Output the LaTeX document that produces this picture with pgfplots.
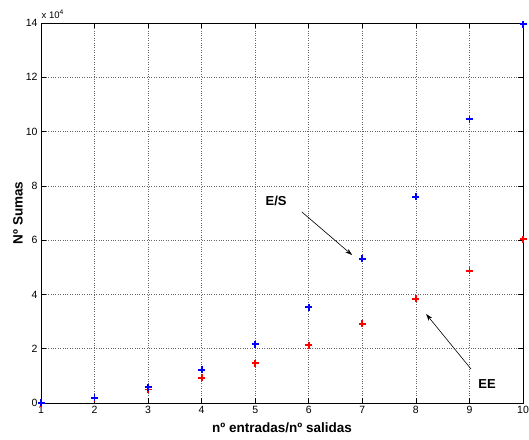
\documentclass[border=0pt]{standalone}
\usepackage{pgfplots}
\pgfplotsset{compat=1.18}
\usepackage{fontspec}
\setmainfont{Liberation Sans}
\usetikzlibrary{arrows.meta}

\begin{document}
\begin{tikzpicture}
\begin{axis}[
    scale only axis,
    width=482pt, height=380pt,
    xmin=1, xmax=10,
    ymin=0, ymax=140000,
    xtick={1,2,3,4,5,6,7,8,9,10},
    ytick={0,20000,40000,60000,80000,100000,120000,140000},
    yticklabels={0,2,4,6,8,10,12,14},
    scaled y ticks=false,
    tick align=inside,
    major tick length=5pt,
    tick style={black, line width=0.6pt},
    axis line style={line width=0.9pt},
    grid=major,
    grid style={dotted, black!60, line width=0.6pt},
    tick label style={font=\fontsize{10.5}{12}\selectfont},
    /pgf/number format/assume math mode=true,
    xlabel={nº entradas/nº salidas},
    ylabel={Nº Sumas},
    every axis x label/.style={at={([yshift=-25pt]rel axis cs:0.5,0)}, anchor=center, font=\bfseries\fontsize{13.5}{15}\selectfont},
    every axis y label/.style={at={([xshift=-23pt]rel axis cs:0,0.5)}, anchor=center, rotate=90, font=\bfseries\fontsize{13.5}{15}\selectfont},
    clip=false,
]
% EE
\addplot[only marks, color=red, mark=+, mark size=3.5pt, mark options={line width=1.8pt}] coordinates {
    (1, 0) (2, 1800) (3, 5000) (4, 9300) (5, 14600)
    (6, 21300) (7, 29200) (8, 38400) (9, 48700) (10, 60300)
};
% E/S
\addplot[only marks, color=blue, mark=+, mark size=3.5pt, mark options={line width=1.8pt}] coordinates {
    (1, 100) (2, 1950) (3, 5800) (4, 12200) (5, 21700)
    (6, 35300) (7, 53100) (8, 76000) (9, 104600) (10, 139500)
};
\node[anchor=south west, font=\fontsize{9.5}{10}\selectfont, inner sep=0pt] at ([xshift=0.5pt,yshift=4pt]rel axis cs:0,1) {x 10\textsuperscript{4}};
\draw[line width=0.6pt, -{Stealth[length=7pt,width=4.5pt]}] (axis cs:5.87,70400) -- (axis cs:6.81,54500);
\draw[line width=0.6pt, -{Stealth[length=7pt,width=4.5pt]}] (axis cs:9.03,12500) -- (axis cs:8.19,32800);
\node[font=\bfseries\fontsize{13}{15}\selectfont] at (axis cs:5.39,74400) {E/S};
\node[font=\bfseries\fontsize{13}{15}\selectfont] at (axis cs:9.33,7000) {EE};
\end{axis}
\pgfresetboundingbox
\path[use as bounding box] ([xshift=-41pt,yshift=-36pt]current axis.south west) rectangle ([xshift=6pt,yshift=23pt]current axis.north east);
\end{tikzpicture}
\end{document}
